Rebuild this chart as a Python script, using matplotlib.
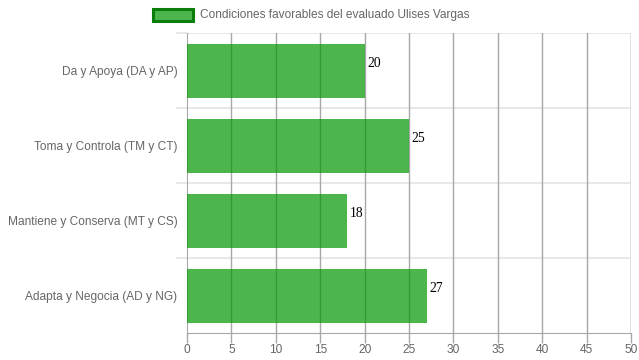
import matplotlib
matplotlib.use("Agg")
import matplotlib.pyplot as plt
from matplotlib.patches import Rectangle
from matplotlib.ticker import FixedLocator
from matplotlib.transforms import offset_copy

categories = ["Da y Apoya (DA y AP)", "Toma y Controla (TM y CT)",
              "Mantiene y Conserva (MT y CS)", "Adapta y Negocia (AD y NG)"]
values = [20, 25, 18, 27]
xticks = [0, 5, 10, 15, 20, 25, 30, 35, 40, 45, 50]
legend_label = "Condiciones favorables del evaluado Ulises Vargas"

plt.rcParams['font.family'] = ['Liberation Sans', 'DejaVu Sans']
FS = 8.6

W, H = 639, 360
fig = plt.figure(figsize=(W / 100, H / 100), dpi=100)
ax = fig.add_axes([187 / W, (H - 333) / H, (631 - 187) / W, 300 / H])

bar_color = (0.0, 0.59, 0.0, 0.70)
ys = list(range(len(categories)))
ax.barh(ys, values, height=0.72, color=bar_color, zorder=3)

lbl_tr = offset_copy(ax.transData, fig=fig, x=2, y=5, units='points')
for y, v in zip(ys, values):
    ax.text(v, y, str(v), va='center', ha='left', fontsize=9.8,
            family=['Liberation Serif', 'DejaVu Serif'], color='black', zorder=4,
            transform=lbl_tr)

ax.set_xlim(0, 50)
ax.set_ylim(len(categories) - 0.5, -0.5)

for x in xticks:
    if x == 0:
        continue
    c = '#dcdcdc' if x == 50 else '#a8a8a8'
    ax.axvline(x, color=c, lw=1.2 if x == 50 else 1.0, zorder=2)

for b in [-0.5, 0.5, 1.5, 2.5]:
    ax.axhline(b, color='#e8e8e8', lw=1.5, zorder=1)

for s in ['top', 'right']:
    ax.spines[s].set_visible(False)
ax.spines['left'].set_color('#a8a8a8')
ax.spines['bottom'].set_color('#a8a8a8')
ax.spines['left'].set_zorder(2)

ax.set_xticks(xticks)
ax.set_xticklabels([str(x) for x in xticks])
ax.tick_params(axis='x', colors='#a8a8a8', length=7, width=1, labelcolor='#666666',
               labelsize=FS, pad=1)

ax.set_yticks(ys)
ax.set_yticklabels(categories)
ax.tick_params(axis='y', which='major', length=0, labelcolor='#666666', labelsize=FS, pad=7)
ax.yaxis.set_minor_locator(FixedLocator([-0.5, 0.5, 1.5, 2.5]))
ax.tick_params(axis='y', which='minor', length=8, color='#e8e8e8', width=1.5)

fig.patches.append(Rectangle((153 / W, (H - 21) / H), 40 / W, 12 / H,
                             transform=fig.transFigure, facecolor=bar_color,
                             edgecolor='#0a7d0a', lw=2.2))
fig.text(200 / W, (H - 15) / H, legend_label, fontsize=FS, color='#666666',
         va='center', ha='left')

fig.savefig("out.png", dpi=100)
